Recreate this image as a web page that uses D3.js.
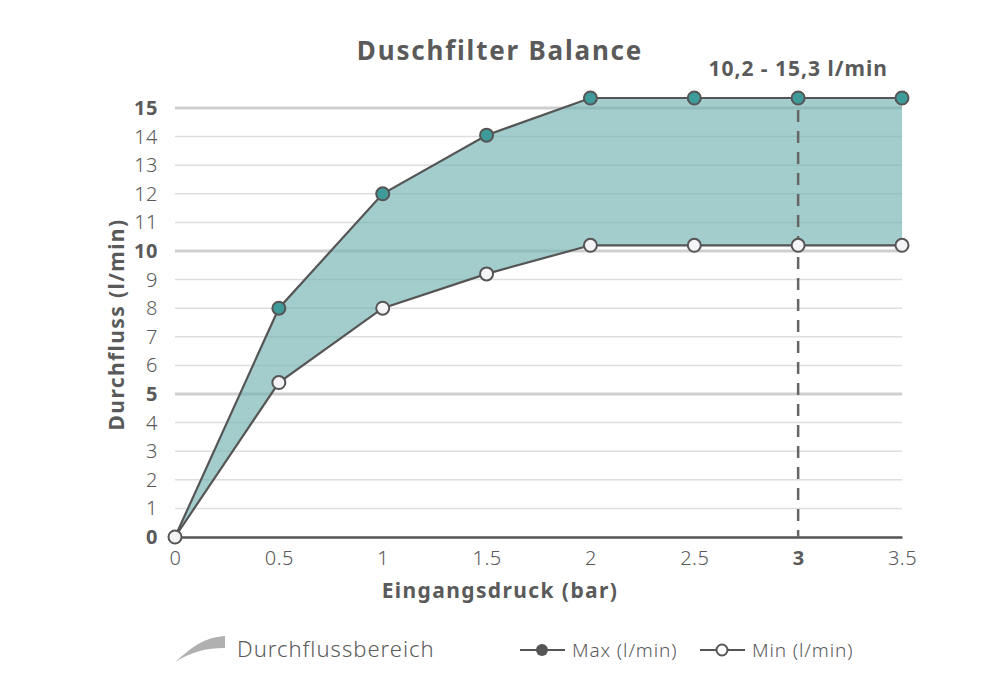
<!DOCTYPE html>
<html>
<head>
<meta charset="utf-8">
<script src="https://cdn.jsdelivr.net/npm/d3@7"></script>
<style>
  body { margin: 0; background: #fff; }
  svg text { font-family: "Noto Sans", "Open Sans", sans-serif; fill: #5a5a5a; }
</style>
</head>
<body>
<div id="chart"></div>
<script>
// data
const pressure = [0, 0.5, 1, 1.5, 2, 2.5, 3, 3.5];
const maxFlow = [0, 8, 12, 14.05, 15.35, 15.35, 15.35, 15.35];
const minFlow = [0, 5.4, 8, 9.2, 10.2, 10.2, 10.2, 10.2];
const yTicks = [0, 1, 2, 3, 4, 5, 6, 7, 8, 9, 10, 11, 12, 13, 14, 15];
const yBold = [0, 5, 10, 15];
const xTicks = [0, 0.5, 1, 1.5, 2, 2.5, 3, 3.5];
const xBold = [3];
const markX = 3;
const markLabel = "10,2 - 15,3 l/min";

const width = 1000, height = 698;
const margin = {top: 108, right: 98, bottom: 161, left: 175};

const svg = d3.select("#chart").append("svg")
    .attr("width", width)
    .attr("height", height);

const x = d3.scaleLinear()
    .domain([0, 3.5])
    .range([margin.left, width - margin.right]);

const y = d3.scaleLinear()
    .domain([0, 15])
    .range([height - margin.bottom, margin.top]);

const data = pressure.map((p, i) => ({p: p, max: maxFlow[i], min: minFlow[i]}));

// gridlines
svg.append("g")
    .selectAll("line")
    .data(yTicks.filter(d => d > 0))
    .enter().append("line")
    .attr("x1", x(0))
    .attr("x2", x(3.5))
    .attr("y1", d => y(d))
    .attr("y2", d => y(d))
    .attr("stroke", d => yBold.includes(d) ? "#cfcfcf" : "#dedede")
    .attr("stroke-width", d => yBold.includes(d) ? 3 : 1.5);

// range area
const area = d3.area()
    .x(d => x(d.p))
    .y0(d => y(d.min))
    .y1(d => y(d.max));

svg.append("path")
    .datum(data)
    .attr("d", area)
    .attr("fill", "#72b1b0")
    .attr("fill-opacity", 0.65);

// x axis
const xAxis = svg.append("g")
    .attr("transform", `translate(0, ${y(0)})`)
    .call(d3.axisBottom(x).tickValues(xTicks).tickSize(0).tickPadding(14)
        .tickFormat(d => d3.format("")(d)));
xAxis.select(".domain").attr("stroke", "#555").attr("stroke-width", 2.5);
xAxis.selectAll("text")
    .style("font-size", "20px")
    .style("font-weight", d => xBold.includes(d) ? 700 : 300)
    .style("letter-spacing", "0.5px")
    .attr("fill", "#5a5a5a");

// y axis
const yAxis = svg.append("g")
    .attr("transform", `translate(${margin.left - 17}, 0)`)
    .call(d3.axisLeft(y).tickValues(yTicks).tickSize(0).tickPadding(0));
yAxis.select(".domain").remove();
yAxis.selectAll("text")
    .style("font-size", "20px")
    .style("font-weight", d => yBold.includes(d) ? 700 : 300)
    .style("letter-spacing", "0.5px")
    .attr("fill", "#5a5a5a");

// dashed marker
svg.append("line")
    .attr("x1", x(markX))
    .attr("x2", x(markX))
    .attr("y1", y(15.35) + 12)
    .attr("y2", y(0))
    .attr("stroke", "#666")
    .attr("stroke-width", 2.5)
    .attr("stroke-dasharray", "12,9");

svg.append("text")
    .attr("x", x(markX))
    .attr("y", 76)
    .attr("text-anchor", "middle")
    .style("font-size", "21px")
    .style("font-weight", 700)
    .style("letter-spacing", "1px")
    .text(markLabel);

// lines
const lineMax = d3.line().x(d => x(d.p)).y(d => y(d.max));
const lineMin = d3.line().x(d => x(d.p)).y(d => y(d.min));

svg.append("path").datum(data).attr("d", lineMax)
    .attr("fill", "none").attr("stroke", "#555").attr("stroke-width", 2.2);
svg.append("path").datum(data).attr("d", lineMin)
    .attr("fill", "none").attr("stroke", "#555").attr("stroke-width", 2.2);

// points
svg.append("g").selectAll("circle")
    .data(data.filter(d => d.p > 0))
    .enter().append("circle")
    .attr("cx", d => x(d.p))
    .attr("cy", d => y(d.max))
    .attr("r", 6.5)
    .attr("fill", "#3f9b99")
    .attr("stroke", "#555")
    .attr("stroke-width", 2);

svg.append("g").selectAll("circle")
    .data(data)
    .enter().append("circle")
    .attr("cx", d => x(d.p))
    .attr("cy", d => y(d.min))
    .attr("r", 6.5)
    .attr("fill", "#f4f4f6")
    .attr("stroke", "#555")
    .attr("stroke-width", 2);

// title
svg.append("text")
    .attr("x", 500)
    .attr("y", 60)
    .attr("text-anchor", "middle")
    .style("font-size", "26px")
    .style("font-weight", 700)
    .style("letter-spacing", "1.8px")
    .text("Duschfilter Balance");

// axis titles
svg.append("text")
    .attr("x", 500)
    .attr("y", 598)
    .attr("text-anchor", "middle")
    .style("font-size", "21px")
    .style("font-weight", 700)
    .style("letter-spacing", "1.4px")
    .text("Eingangsdruck (bar)");

svg.append("text")
    .attr("transform", `translate(124, ${y(7.5) + 2}) rotate(-90)`)
    .attr("text-anchor", "middle")
    .style("font-size", "21px")
    .style("font-weight", 700)
    .style("letter-spacing", "1.4px")
    .text("Durchfluss (l/min)");

// legend
const legend = svg.append("g").attr("transform", "translate(0, 650)");

legend.append("path")
    .attr("d", "M175,12 C190,0 200,-12 225,-14 L225,-2 C205,-2 192,2 175,12 Z")
    .attr("fill", "#b0b0b0");
legend.append("text")
    .attr("x", 237)
    .attr("y", 7)
    .style("font-size", "22px")
    .style("font-weight", 300)
    .style("letter-spacing", "1px")
    .text("Durchflussbereich");

legend.append("line")
    .attr("x1", 520).attr("x2", 565).attr("y1", 0).attr("y2", 0)
    .attr("stroke", "#555").attr("stroke-width", 2.2);
legend.append("circle")
    .attr("cx", 542).attr("cy", 0).attr("r", 6)
    .attr("fill", "#555");
legend.append("text")
    .attr("x", 572).attr("y", 7)
    .style("font-size", "19px").style("font-weight", 300)
    .style("letter-spacing", "0.9px")
    .text("Max (l/min)");

legend.append("line")
    .attr("x1", 700).attr("x2", 745).attr("y1", 0).attr("y2", 0)
    .attr("stroke", "#555").attr("stroke-width", 2.2);
legend.append("circle")
    .attr("cx", 722).attr("cy", 0).attr("r", 5.5)
    .attr("fill", "#fff").attr("stroke", "#555").attr("stroke-width", 2);
legend.append("text")
    .attr("x", 752).attr("y", 7)
    .style("font-size", "19px").style("font-weight", 300)
    .style("letter-spacing", "0.9px")
    .text("Min (l/min)");
</script>
</body>
</html>
